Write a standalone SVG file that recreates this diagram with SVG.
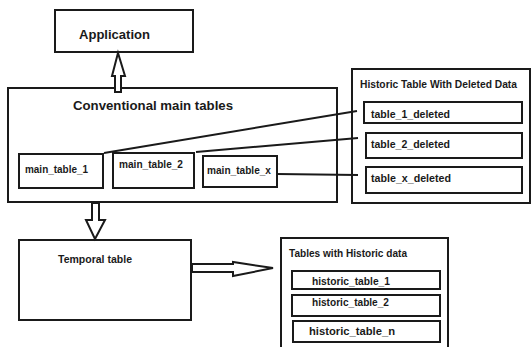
<svg xmlns="http://www.w3.org/2000/svg" width="531" height="347" viewBox="0 0 531 347">
<style>
.box{fill:#fff;stroke:#1a1a1a;stroke-width:2}
.t{font-family:"Liberation Sans",Arial,sans-serif;font-weight:bold;fill:#1a1a1a}
.ln{stroke:#1a1a1a;stroke-width:2;fill:none}
.arr{fill:#fff;stroke:#1a1a1a;stroke-width:2;stroke-linejoin:miter}
</style>
<rect width="531" height="347" fill="#fff"/>
<g id="historic_deleted">
<rect class="box" x="352" y="69" width="178" height="134"/>
<text class="t" x="360" y="88" font-size="10" textLength="157" lengthAdjust="spacingAndGlyphs">Historic Table With Deleted Data</text>
</g>
<g id="table_1_deleted">
<rect class="box" x="364" y="102" width="158" height="21"/>
<text class="t" x="371" y="118" font-size="10.5" textLength="79" lengthAdjust="spacingAndGlyphs">table_1_deleted</text>
</g>
<g id="table_2_deleted">
<rect class="box" x="366" y="133" width="156" height="25"/>
<text class="t" x="371" y="148" font-size="10.5" textLength="79" lengthAdjust="spacingAndGlyphs">table_2_deleted</text>
</g>
<g id="table_x_deleted">
<rect class="box" x="366" y="167" width="156" height="26"/>
<text class="t" x="371" y="182" font-size="10.5" textLength="80" lengthAdjust="spacingAndGlyphs">table_x_deleted</text>
</g>
<g id="application">
<rect class="box" x="55" y="10" width="138" height="42"/>
<text class="t" x="79" y="39" font-size="13" textLength="71" lengthAdjust="spacingAndGlyphs">Application</text>
</g>
<g id="conventional">
<rect class="box" x="8" y="88" width="329" height="114"/>
<text class="t" x="73" y="110" font-size="12.5" textLength="160" lengthAdjust="spacingAndGlyphs">Conventional main tables</text>
</g>
<g id="main_table_1">
<rect class="box" x="19" y="154" width="84" height="34"/>
<text class="t" x="25" y="173" font-size="10.5" textLength="63" lengthAdjust="spacingAndGlyphs">main_table_1</text>
</g>
<g id="main_table_2">
<rect class="box" x="113" y="153" width="81" height="35"/>
<text class="t" x="119" y="168" font-size="10.5" textLength="64" lengthAdjust="spacingAndGlyphs">main_table_2</text>
</g>
<g id="main_table_x">
<rect class="box" x="203" y="156" width="74" height="31"/>
<text class="t" x="207" y="174" font-size="10.5" textLength="64" lengthAdjust="spacingAndGlyphs">main_table_x</text>
</g>
<g id="temporal">
<rect class="box" x="19" y="240" width="172" height="80"/>
<text class="t" x="58" y="263" font-size="10.5" textLength="74" lengthAdjust="spacingAndGlyphs">Temporal table</text>
</g>
<g id="historic_data">
<rect class="box" x="281" y="238" width="167" height="110"/>
<text class="t" x="289" y="257" font-size="10" textLength="118" lengthAdjust="spacingAndGlyphs">Tables with Historic data</text>
</g>
<g id="historic_table_1">
<rect class="box" x="292" y="271" width="148" height="18"/>
<text class="t" x="312" y="285" font-size="11" textLength="78" lengthAdjust="spacingAndGlyphs">historic_table_1</text>
</g>
<g id="historic_table_2">
<rect class="box" x="292" y="295" width="148" height="21"/>
<text class="t" x="312" y="306" font-size="11" textLength="77" lengthAdjust="spacingAndGlyphs">historic_table_2</text>
</g>
<g id="historic_table_n">
<rect class="box" x="293" y="321" width="147" height="21"/>
<text class="t" x="309" y="335" font-size="11" textLength="86" lengthAdjust="spacingAndGlyphs">historic_table_n</text>
</g>
<g id="connectors">
<line class="ln" x1="104" y1="153" x2="357" y2="111"/>
<line class="ln" x1="196" y1="152" x2="358" y2="138"/>
<line class="ln" x1="277" y1="174" x2="358" y2="175"/>
<polygon class="arr" points="115,92 115,76 112,76 118,53 125,76 121,76 121,92"/>
<polygon class="arr" points="92,203 99,203 99,220 105,220 95,239 86,220 92,220"/>
<polygon class="arr" points="192,264 233,264 233,262 273,268 233,276 233,272 192,272"/>
</g>
</svg>
